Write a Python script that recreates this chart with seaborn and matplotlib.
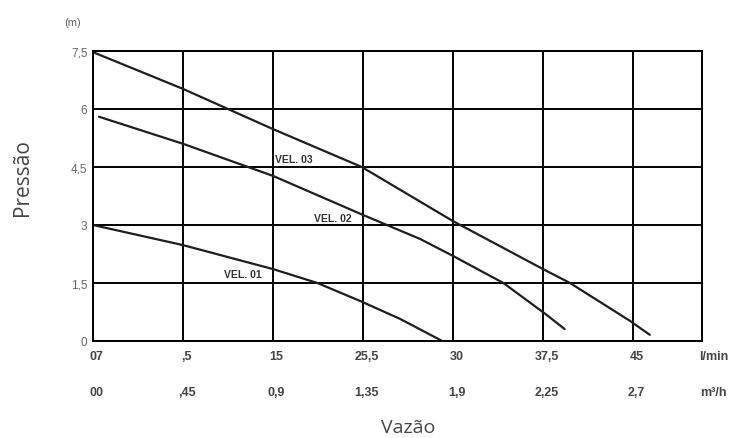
import matplotlib
matplotlib.use("Agg")
import matplotlib.pyplot as plt
import pandas as pd
import seaborn as sns

# ------------------------------------------------------
# Data (flow in l/min, head in m)
# ------------------------------------------------------

vel01_flow = [0.0, 7.5, 15.0, 18.7, 22.3, 25.6, 29.1]
vel01_head = [3.0, 2.48, 1.86, 1.5, 1.03, 0.57, 0.0]

vel02_flow = [0.5, 7.5, 15.0, 22.5, 27.25, 30.0, 34.2, 37.7, 39.3]
vel02_head = [5.8, 5.1, 4.27, 3.26, 2.64, 2.2, 1.5, 0.7, 0.31]

vel03_flow = [0.0, 7.5, 15.0, 22.4, 30.0, 37.5, 39.75, 44.75, 46.4]
vel03_head = [7.47, 6.52, 5.48, 4.5, 3.1, 1.86, 1.5, 0.52, 0.16]

curve_names = ["VEL. 01", "VEL. 02", "VEL. 03"]
label_flow = [10.9, 18.4, 15.2]
label_head = [1.73, 3.18, 4.71]

flow_ticks = [0, 7.5, 15, 22.5, 30, 37.5, 45]
lmin_labels = ["07", ",5", "15", "25,5", "30", "37,5", "45"]
m3h_labels = ["00", ",45", "0,9", "1,35", "1,9", "2,25", "2,7"]

head_ticks = [0, 1.5, 3, 4.5, 6, 7.5]
head_labels = ["0", "1,5", "3", "4,5", "6", "7,5"]

df = pd.concat([
    pd.DataFrame({"flow": vel01_flow, "head": vel01_head, "curve": "VEL. 01"}),
    pd.DataFrame({"flow": vel02_flow, "head": vel02_head, "curve": "VEL. 02"}),
    pd.DataFrame({"flow": vel03_flow, "head": vel03_head, "curve": "VEL. 03"}),
])

# ------------------------------------------------------
# Figure
# ------------------------------------------------------

sns.set_style("white")
plt.rcParams["font.family"] = ["Liberation Sans", "DejaVu Sans"]

fig = plt.figure(figsize=(7.37, 4.39), dpi=100)
ax = fig.add_axes([93 / 737, 97 / 439, 609 / 737, 290 / 439])

for name in curve_names:
    sns.lineplot(
        data=df[df["curve"] == name],
        x="flow",
        y="head",
        sort=False,
        estimator=None,
        color="#1e1e1e",
        linewidth=1.6,
        ax=ax,
    )

ax.set_xlim(0, 50.75)
ax.set_ylim(0, 7.5)

ax.set_xticks(flow_ticks)
ax.set_xticklabels([])
ax.set_yticks(head_ticks)
ax.set_yticklabels(head_labels, fontsize=8.5, color="#666666")
ax.tick_params(axis="both", length=0)
ax.tick_params(axis="y", pad=4)

ax.grid(True, color="black", linewidth=1.4)
for spine in ax.spines.values():
    spine.set_color("black")
    spine.set_linewidth(1.4)

ax.set_xlabel("")
ax.set_ylabel("")

# curve names
for name, fx, hy in zip(curve_names, label_flow, label_head):
    ax.text(fx, hy, name, fontsize=7.5, fontweight="bold",
            color="#333333", ha="left", va="center")

# two rows of flow labels
trans = ax.get_xaxis_transform()
for fx, a, b in zip(flow_ticks, lmin_labels, m3h_labels):
    ax.text(fx + 0.3, -0.052, a, transform=trans, fontsize=9,
            fontweight="bold", color="#444444", ha="center", va="center")
    ax.text(fx + 0.3, -0.176, b, transform=trans, fontsize=9,
            fontweight="bold", color="#444444", ha="center", va="center")

ax.text(51.7, -0.052, "l/min", transform=trans, fontsize=9,
        fontweight="bold", color="#444444", ha="center", va="center")
ax.text(51.7, -0.176, "m³/h", transform=trans, fontsize=9,
        fontweight="bold", color="#444444", ha="center", va="center")

fig.text(73 / 737, 1 - 23 / 439, "(m)", fontsize=8, color="#666666",
         ha="center", va="center")

fig.text(22 / 737, 1 - 178 / 439, "Pressão", fontsize=15, color="#444444",
         rotation=90, ha="center", va="center", family="Open Sans")
fig.text(408 / 737, 1 - 428 / 439, "Vazão", fontsize=14, color="#444444",
         ha="center", va="center", family="Open Sans")

fig.savefig("out.png", dpi=100)
plt.close(fig)
